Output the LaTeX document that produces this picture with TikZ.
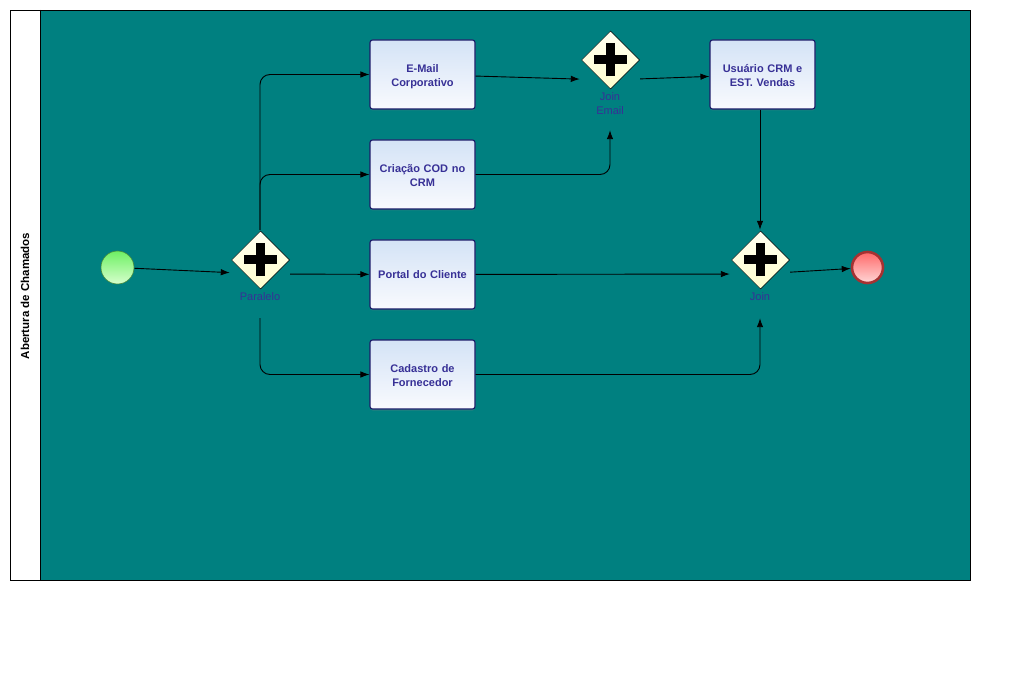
\documentclass[tikz,border=0pt]{standalone}
\usepackage{fontspec}
\setmainfont{Liberation Sans}
\usepackage{xcolor}
\usepackage{tikz}
\usetikzlibrary{arrows.meta,positioning,shapes.geometric,shadows}

\definecolor{lane}{RGB}{0,128,128}
\definecolor{lbl}{RGB}{55,48,150}
\definecolor{taskline}{RGB}{28,28,105}
\definecolor{tasktop}{RGB}{212,227,246}
\definecolor{taskbot}{RGB}{249,250,254}
\definecolor{gwtop}{RGB}{255,255,242}
\definecolor{gwbot}{RGB}{255,255,205}
\definecolor{starttop}{RGB}{110,240,100}
\definecolor{startbot}{RGB}{215,255,205}
\definecolor{startline}{RGB}{70,140,60}
\definecolor{endtop}{RGB}{255,105,105}
\definecolor{endbot}{RGB}{255,215,215}
\definecolor{endline}{RGB}{165,50,50}

\begin{document}
\begin{tikzpicture}[x=1pt, y=-1pt, font=\fontsize{11}{14}\selectfont, every node/.style={inner sep=2pt}]
        \tikzset{
            task/.style={draw=taskline, line width=1.1pt, rounded corners=2.5pt, top color=tasktop, bottom color=taskbot,
                minimum width=105pt, minimum height=69pt, text width=98pt, align=center,
                text=lbl, font=\fontsize{11}{14}\selectfont\bfseries,
                drop shadow={shadow xshift=0pt, shadow yshift=-1.5pt, opacity=0.3}},
            twolines/.style={text depth=11.5pt},
            gw/.style={minimum width=60pt, minimum height=88pt, inner sep=0pt},
            gwd/.style={diamond, draw, line width=0.5pt, top color=gwtop, bottom color=gwbot,
                minimum width=58pt, minimum height=58pt, inner sep=0pt,
                path picture={
                    \draw[line width=9pt] ([xshift=-16.5pt]path picture bounding box.center) -- ([xshift=16.5pt]path picture bounding box.center);
                    \draw[line width=9pt] ([yshift=-16.5pt]path picture bounding box.center) -- ([yshift=16.5pt]path picture bounding box.center);
                }},
            gwl/.style={text=lbl, align=center, inner sep=0pt},
            ev/.style={circle, inner sep=0pt},
            arr/.style={-{Latex[length=9pt, width=6.5pt]}, line width=0.9pt}
        }
        % pool and lane
        \draw[line width=0.8pt, fill=white] (10,10) rectangle (970,580);
        \fill[lane] (40,10) rectangle (970,580);
        \draw[line width=0.8pt] (10,10) rectangle (970,580) (40,10) -- (40,580);
        \node[rotate=90, font=\fontsize{11.5}{14}\selectfont\bfseries] (lanetitle) at (25,296) {Abertura de Chamados};
        \useasboundingbox (0,0) rectangle (1030,700);

        % events
        \node[ev, draw=startline, line width=0.6pt, top color=starttop, bottom color=startbot, minimum size=33pt] (start) at (117.5,267.5) {};
        \node[ev, draw=endline, line width=2.6pt, top color=endtop, bottom color=endbot, minimum size=31pt] (end) at (867.5,267.5) {};

        % gateways
        \node[gw] (par) at (260,274) {};
        \node[gwd] (pard) at (260.5,260) {};
        \node[gwl] (parl) at (260,297) {Paralelo};
        \node[gw, minimum height=100pt] (je) at (610,80) {};
        \node[gwd] (jed) at (610.5,60) {};
        \node[gwl] (jel) at (610,104) {Join\\Email};
        \node[gw] (join) at (760,274) {};
        \node[gwd] (joind) at (760.5,260) {};
        \node[gwl] (joinl) at (760,297) {Join};

        % tasks
        \node[task, twolines] (email) at (422.5,74.5) {E-Mail\\Corporativo};
        \node[task, twolines] (cri) at (422.5,174.5) {Criação COD no\\CRM};
        \node[task] (portal) at (422.5,274.5) {Portal do Cliente};
        \node[task, twolines] (cad) at (422.5,374.5) {Cadastro de\\Fornecedor};
        \node[task, twolines] (usr) at (762.5,74.5) {Usuário CRM e\\EST. Vendas};

        % flows
        \draw[arr] (start) -- (par);
        \draw[arr, rounded corners=10pt] (par.north) |- (email);
        \draw[arr, rounded corners=10pt] (par.north) |- (cri);
        \draw[arr] (par) -- (portal);
        \draw[arr, rounded corners=10pt] (par.south) |- (cad);
        \draw[arr] (email) -- (je);
        \draw[arr, rounded corners=10pt] (cri) -| (je.south);
        \draw[arr] (je) -- (usr);
        \draw[arr] (join.north |- usr.south) -- (join.north);
        \draw[arr] (portal) -- (join);
        \draw[arr, rounded corners=10pt] (cad) -| (join.south);
        \draw[arr] (join) -- (end);
    \end{tikzpicture}
\end{document}
